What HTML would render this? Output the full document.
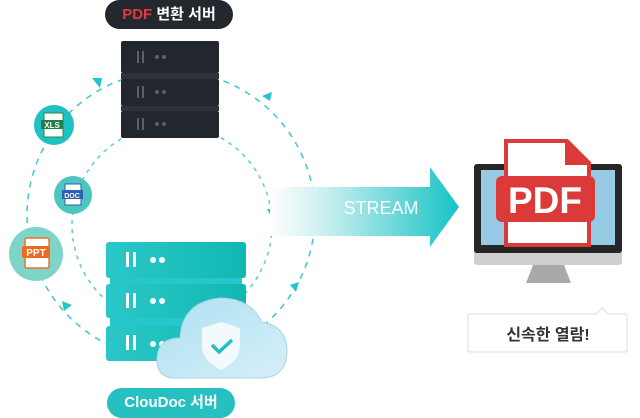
<!DOCTYPE html>
<html><head><meta charset="utf-8"><style>
body{margin:0;width:640px;height:418px;background:#fff;overflow:hidden;position:relative;font-family:"Liberation Sans","Noto Sans CJK KR",sans-serif}
.a{position:absolute}
.pill{border-radius:15px;color:#fff;font-weight:bold;font-size:15px;text-align:center;line-height:29px}
</style></head><body>
<svg class="a" style="left:0;top:0" width="640" height="418">
<defs>
<linearGradient id="st" x1="0" x2="1"><stop offset="0" stop-color="#fff"/><stop offset="0.3" stop-color="#c9eef0"/><stop offset="1" stop-color="#17c3c6"/></linearGradient>
<linearGradient id="tl" x1="0" x2="1"><stop offset="0" stop-color="#2bc7c8"/><stop offset="1" stop-color="#10b8b2"/></linearGradient>
<linearGradient id="cl" x1="0" x2="1" y1="0" y2="1"><stop offset="0" stop-color="#aee0f2"/><stop offset="1" stop-color="#d6eff8"/></linearGradient>
</defs>
<circle cx="171" cy="215" r="144" fill="none" stroke="#3cc8cc" stroke-width="1.5" stroke-dasharray="6 6"/>
<circle cx="172" cy="225" r="100" fill="none" stroke="#5ccfd0" stroke-width="1.5" stroke-dasharray="4 5"/>
<g fill="#25c4cc">
<polygon points="92,78 102,78 100,88"/><polygon points="262,96 272,92 270,101"/>
<polygon points="267,209 277,209 272,218"/><polygon points="290,285 299,282 296,292"/>
<polygon points="62,301 72,305 64,311"/>
</g>
<polygon points="270,187 430,187 430,167 459,207 430,247 430,236 270,236" fill="url(#st)"/>
<text x="381" y="214" fill="#fff" font-size="18" text-anchor="middle" font-family="Liberation Sans, sans-serif">STREAM</text>
<circle cx="54" cy="125" r="20" fill="#1fc2c2"/>
<rect x="44" y="113" width="19" height="24" fill="#fff" stroke="#2a8a4a"/><rect x="41" y="120" width="22" height="9" fill="#21804a"/>
<text x="52" y="128" fill="#fff" font-size="8" font-weight="bold" text-anchor="middle">XLS</text>
<circle cx="73" cy="195" r="19" fill="#4dc6c0"/>
<rect x="65" y="184" width="16" height="21" fill="#fff" stroke="#2d5fb3"/><rect x="62" y="190" width="21" height="9" fill="#2d5fb3"/>
<text x="72" y="198" fill="#fff" font-size="7" font-weight="bold" text-anchor="middle">DOC</text>
<circle cx="36" cy="254" r="27" fill="#7dd5ca"/>
<rect x="25" y="238" width="24" height="30" rx="2" fill="#fff" stroke="#f07020" stroke-width="1.5"/><rect x="22" y="246" width="28" height="12" rx="2" fill="#f06a1e"/>
<text x="36" y="256" fill="#fff" font-size="10" font-weight="bold" text-anchor="middle">PPT</text>
<rect x="123" y="41" width="94" height="97" fill="#15181d"/>
<g fill="#22262d"><rect x="121" y="41" width="98" height="32" rx="2"/><rect x="121" y="79" width="98" height="27" rx="2"/><rect x="121" y="111" width="98" height="27" rx="2"/></g>
<rect x="121" y="73" width="98" height="6" fill="#2e323a"/><rect x="121" y="106" width="98" height="5" fill="#2e323a"/>
<g fill="#5b616b"><rect x="137" y="51" width="2" height="12"/><rect x="142" y="51" width="2" height="12"/><circle cx="157" cy="57" r="2"/><circle cx="164" cy="57" r="2"/>
<rect x="137" y="86" width="2" height="12"/><rect x="142" y="86" width="2" height="12"/><circle cx="157" cy="92" r="2"/><circle cx="164" cy="92" r="2"/>
<rect x="137" y="118" width="2" height="12"/><rect x="142" y="118" width="2" height="12"/><circle cx="157" cy="124" r="2"/><circle cx="164" cy="124" r="2"/></g>
<rect x="110" y="276" width="132" height="10" fill="#27c6cc"/><rect x="110" y="316" width="132" height="12" fill="#27c6cc"/>
<g fill="url(#tl)"><rect x="106" y="242" width="140" height="36" rx="3"/><rect x="106" y="284" width="140" height="34" rx="3"/><rect x="106" y="326" width="140" height="35" rx="3"/></g>
<g fill="#fff"><rect x="126" y="252" width="3" height="15"/><rect x="133" y="252" width="3" height="15"/><circle cx="153" cy="260" r="3"/><circle cx="162" cy="260" r="3"/>
<rect x="126" y="293" width="3" height="15"/><rect x="133" y="293" width="3" height="15"/><circle cx="153" cy="301" r="3"/><circle cx="162" cy="301" r="3"/>
<rect x="126" y="335" width="3" height="15"/><rect x="133" y="335" width="3" height="15"/><circle cx="153" cy="344" r="3"/><circle cx="162" cy="344" r="3"/></g>
<path d="M172,378 Q156,376 157,357 Q159,338 180,338 Q182,302 220,298 Q250,298 262,322 Q287,326 287,352 Q286,377 262,378 Z" fill="url(#cl)" stroke="#a8d4e2"/>
<path d="M221,322 L240,328 L240,345 Q240,361 221,370 Q202,361 202,345 L202,328 Z" fill="#f2fafd"/>
<polyline points="212,345 219,352 232,340" fill="none" stroke="#20bfc0" stroke-width="3.5"/>
<rect x="474" y="164" width="148" height="101" rx="3" fill="#cfcfcf"/>
<rect x="474" y="164" width="148" height="89" rx="3" fill="#262626"/>
<rect x="481" y="170" width="134" height="75" fill="#97cae5"/>
<path d="M526,283 L533,265 L564,265 L571,283 Z" fill="#a9a9a9"/>
<path d="M506,141 L567,141 L589,163 L589,245 L506,245 Z" fill="#fff" stroke="#dc3a38" stroke-width="4"/>
<path d="M565,141 L565,165 L589,165 Z" fill="#dc3a38"/>
<rect x="496" y="176" width="99" height="46" rx="6" fill="#dc3a38"/>
<text x="545" y="213" fill="#fff" font-size="37" font-weight="bold" text-anchor="middle" font-family="Liberation Sans, sans-serif">PDF</text>
<path d="M470,314 L596,314 L602,308 L608,314 L625,314 Q627,314 627,316 L627,350 Q627,352 625,352 L470,352 Q468,352 468,350 L468,316 Q468,314 470,314 Z" fill="#fff" stroke="#dcdcdc"/>
<text x="548" y="340" fill="#333" font-size="16" font-weight="bold" text-anchor="middle">신속한 열람!</text>
</svg>
<div class="a pill" style="left:105px;top:0;width:128px;background:#23272e">
<span style="color:#e23a3e">PDF</span> 변환 서버</div>
<div class="a pill" style="left:107px;top:388px;width:128px;height:30px;background:#26c0c0">ClouDoc 서버</div>
</body></html>
